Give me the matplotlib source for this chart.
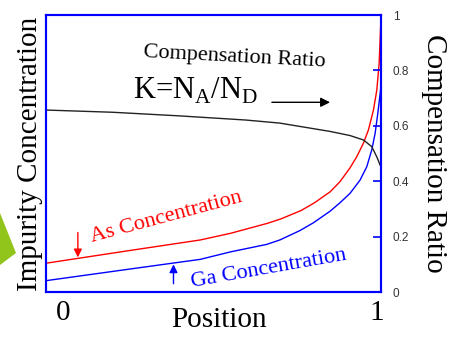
import matplotlib.pyplot as plt
from matplotlib.patches import Polygon

plt.rcParams['font.family'] = ['Liberation Serif', 'DejaVu Serif']
plt.rcParams['mathtext.fontset'] = 'custom'
plt.rcParams['mathtext.rm'] = 'Liberation Serif'

# positions along the crystal (0 = start, 1 = end)
as_pos = [0.0, 0.25, 0.46, 0.55, 0.66, 0.70, 0.76, 0.80, 0.847, 0.876, 0.906, 0.926,
          0.946, 0.961, 0.976, 0.986, 0.993, 0.997, 0.999]
as_conc = [0.104, 0.150, 0.188, 0.212, 0.248, 0.264, 0.294, 0.322, 0.362, 0.398, 0.448, 0.488,
           0.537, 0.585, 0.657, 0.729, 0.826, 0.946, 1.0]

ga_pos = [0.0, 0.25, 0.46, 0.55, 0.658, 0.697, 0.757, 0.797, 0.847, 0.876, 0.906, 0.936,
          0.956, 0.971, 0.981, 0.989, 0.996, 0.999]
ga_conc = [0.041, 0.083, 0.118, 0.145, 0.172, 0.188, 0.222, 0.250, 0.292, 0.322, 0.356, 0.404,
           0.452, 0.513, 0.573, 0.645, 0.717, 0.750]

k_pos = [0.0, 0.199, 0.397, 0.595, 0.696, 0.846, 0.906, 0.946, 0.971, 0.986, 0.996]
k_ratio = [0.657, 0.649, 0.636, 0.621, 0.610, 0.580, 0.565, 0.549, 0.525, 0.488, 0.458]

ratio_ticks = [0, 0.2, 0.4, 0.6, 0.8, 1]
ratio_labels = ['0', '0.2', '0.4', '0.6', '0.8', '1']

fig = plt.figure(figsize=(4.54, 3.38), dpi=100)
ax = fig.add_axes([0.1013, 0.136, 0.739, 0.8195])
ax2 = ax.twinx()

ax.plot(as_pos, as_conc, color='#ff0000', lw=1.0)
ax.plot(ga_pos, ga_conc, color='#0000ff', lw=1.0)
ax2.plot(k_pos, k_ratio, color='#222222', lw=1.0)

for a in (ax, ax2):
    a.set_xlim(0, 1)
    a.set_ylim(0, 1)
    for s in a.spines.values():
        s.set_color('#0000ff')
        s.set_linewidth(1.5)

ax.set_yticks([])
ax.set_xticks([0.05, 0.985], ['0', '1'])
ax.tick_params(axis='x', length=0, labelsize=21, pad=6)
ax.set_xlabel('Position', fontsize=21)
ax.xaxis.set_label_coords(0.515, -0.1)
ax.xaxis.label.set_verticalalignment('center')
ax.set_ylabel('Impurity Concentration', fontsize=21, labelpad=2)

ax2.set_yticks(ratio_ticks, ratio_labels)
ax2.tick_params(axis='y', direction='in', length=6, width=1.2, color='#0000ff',
                labelsize=8.5, labelcolor='#333333', pad=8)
for t in ax2.get_yticklabels():
    t.set_fontfamily('Liberation Sans')
ax2.set_ylabel('Compensation Ratio', fontsize=21, rotation=270, labelpad=27)

# annotations
ax2.text(0.561, 0.848, 'Compensation Ratio', fontsize=16, rotation=-3,
         ha='center', va='center')
ax2.text(0.26, 0.725, r'K=N$_\mathregular{A}$/N$_\mathregular{D}$', fontsize=22,
         ha='left', va='center')
ax2.annotate('', xy=(0.855, 0.685), xytext=(0.665, 0.685),
             arrowprops=dict(arrowstyle='-|>', color='black', lw=1.0,
                             mutation_scale=14))

ax.text(0.36, 0.27, 'As Concentration', color='#ff0000', fontsize=16,
        rotation=15, ha='center', va='center')
ax.annotate('', xy=(0.095, 0.115), xytext=(0.095, 0.225),
            arrowprops=dict(arrowstyle='-|>', color='#ff0000', lw=1.0,
                            mutation_scale=12))
ax.text(0.665, 0.085, 'Ga Concentration', color='#0000ff', fontsize=16,
        rotation=10, ha='center', va='center')
ax.annotate('', xy=(0.38, 0.11), xytext=(0.38, 0.02),
            arrowprops=dict(arrowstyle='-|>', color='#0000ff', lw=1.0,
                            mutation_scale=12))

# green arrow tip poking in from the left edge
fig.patches.append(Polygon([[0, 1 - 213 / 338], [16 / 454, 1 - 253 / 338], [0, 1 - 265 / 338]],
                           closed=True, transform=fig.transFigure,
                           facecolor='#92c51b', edgecolor='none'))

fig.savefig('out.png', dpi=100)
